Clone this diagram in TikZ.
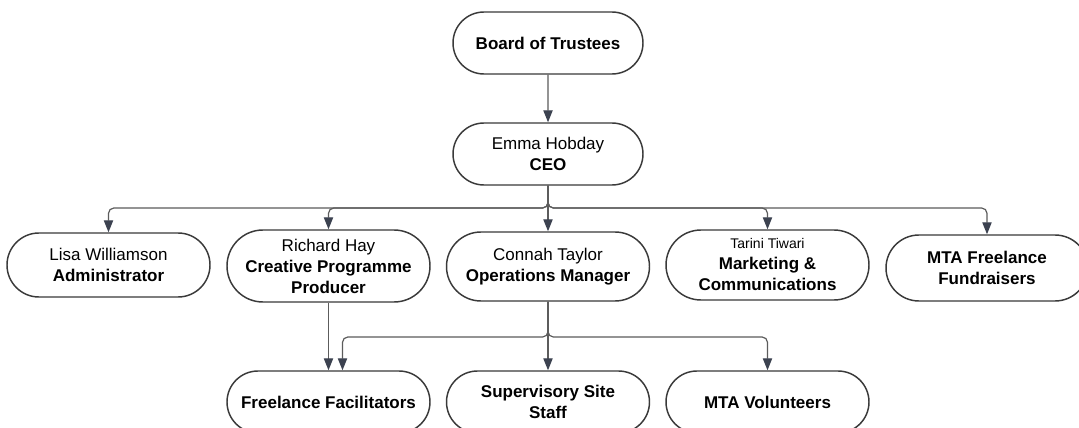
\documentclass[tikz,border=0pt]{standalone}
\usepackage{fontspec}
\setmainfont{Liberation Sans}
\usetikzlibrary{shapes.misc,arrows.meta}
\definecolor{boxline}{HTML}{3A3A3A}
\definecolor{connc}{HTML}{5C5C5C}
\definecolor{tipc}{HTML}{3C4250}
\tikzset{
  box/.style={draw=boxline, line width=1.1pt, rounded rectangle, fill=white,
    minimum width=152.25pt, minimum height=#1, inner sep=0pt, align=center,
    font=\fontsize{12.75}{15.75}\selectfont, text=black},
  box/.default=50pt,
  conn/.style={draw=connc, line width=0.9pt,
    -{Triangle[length=9pt,width=7pt,color=tipc]}, rounded corners=4pt},
}
\begin{document}
\begin{tikzpicture}[x=0.75pt,y=-0.75pt]
\fill[white] (0,0) rectangle (1079,428);
\useasboundingbox (0,0) rectangle (1079,428);
% nodes
\node[box=46.5pt, minimum width=142.5pt] (board) at (548,43) {\textbf{Board of Trustees}};
\node[box=46.5pt, minimum width=142.5pt] (ceo) at (548,154) {Emma Hobday\\\textbf{CEO}};
\node[box=48pt] (lisa) at (108.5,265) {Lisa Williamson\\\textbf{Administrator}};
\node[box=54pt] (richard) at (328.5,266) {Richard Hay\\\textbf{Creative Programme}\\\textbf{Producer}};
\node[box=51.75pt] (connah) at (548,266.5) {Connah Taylor\\\textbf{Operations Manager}};
\node[box=52.5pt] (tarini) at (767.5,265) {{\fontsize{10.5}{12}\selectfont Tarini Tiwari}\\\textbf{Marketing \&}\\\textbf{Communications}};
\node[box=49.5pt, minimum width=151.5pt] (fund) at (987,268) {\textbf{MTA Freelance}\\\textbf{Fundraisers}};
\node[box=46.5pt] (facil) at (328.5,402) {\textbf{Freelance Facilitators}};
\node[box=46.5pt] (sup) at (548,402) {\textbf{Supervisory Site}\\\textbf{Staff}};
\node[box=46.5pt] (vol) at (767.5,402) {\textbf{MTA Volunteers}};
% buses
\coordinate (bus1) at (548,208);
\coordinate (bus2) at (548,337);
% connectors
\draw[conn] (board) -- (ceo);
\draw[conn] (ceo.south) -- (ceo.south |- bus1) -| (lisa.north);
\draw[conn] (ceo.south) -- (ceo.south |- bus1) -| (richard.north);
\draw[conn] (ceo.south) -- (connah.north);
\draw[conn] (ceo.south) -- (ceo.south |- bus1) -| (tarini.north);
\draw[conn] (ceo.south) -- (ceo.south |- bus1) -| (fund.north);
\draw[conn] (richard.south) -- (facil.north);
\draw[conn] (connah.south) -- (connah.south |- bus2) -| ([xshift=10.5pt]facil.north);
\draw[conn] (connah.south) -- (sup.north);
\draw[conn] (connah.south) -- (connah.south |- bus2) -| (vol.north);
\end{tikzpicture}
\end{document}
